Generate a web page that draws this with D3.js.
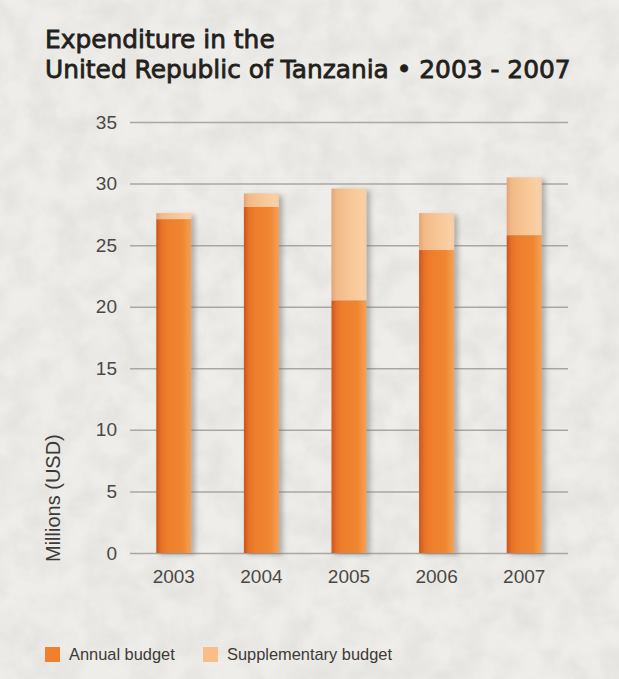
<!DOCTYPE html>
<html>
<head>
<meta charset="utf-8">
<script src="https://cdn.jsdelivr.net/npm/d3@7"></script>
<style>
  html, body { margin: 0; padding: 0; background: #eceae6; }
  svg { display: block; }
</style>
</head>
<body>
<svg id="chart"></svg>
<script>
// Data
const YEARS = ['2003', '2004', '2005', '2006', '2007'];
const ANNUAL = [27.1, 28.1, 20.5, 24.6, 25.8];
const SUPPLEMENTARY = [0.5, 1.1, 9.1, 3.0, 4.7];
const Y_TICKS = [0, 5, 10, 15, 20, 25, 30, 35];
const SERIES = ['Annual budget', 'Supplementary budget'];
const TITLE = ['Expenditure in the', 'United Republic of Tanzania \u2022 2003 - 2007'];

// Layout
const W = 619, H = 679;
const margin = {top: 122, right: 51, bottom: 126, left: 130};
const width = W - margin.left - margin.right;
const height = H - margin.top - margin.bottom;

const svg = d3.select('#chart').attr('width', W).attr('height', H);
const defs = svg.append('defs');

// paper texture
const paper = defs.append('filter').attr('id', 'paper')
  .attr('x', 0).attr('y', 0).attr('width', '100%').attr('height', '100%');
paper.append('feTurbulence').attr('type', 'fractalNoise')
  .attr('baseFrequency', 0.035).attr('numOctaves', 4).attr('seed', 7);
paper.append('feColorMatrix').attr('type', 'matrix')
  .attr('values', '0 0 0 0 0.45  0 0 0 0 0.44  0 0 0 0 0.42  0 0 0 -1.1 0.75');
svg.append('rect').attr('width', W).attr('height', H).attr('fill', '#efede9');
svg.append('rect').attr('width', W).attr('height', H).attr('filter', 'url(#paper)').attr('opacity', 0.3);

// bar gradients
const grad = (id, stops) => {
  const g = defs.append('linearGradient').attr('id', id)
    .attr('x1', 0).attr('x2', 1).attr('y1', 0).attr('y2', 0);
  stops.forEach(s => g.append('stop').attr('offset', s[0]).attr('stop-color', s[1]));
};
grad('gAnnual', [[0, '#c9561a'], [0.14, '#e6702a'], [0.3, '#ee7d2c'], [0.75, '#f08630'], [0.92, '#f39a4a'], [1, '#eea060']]);
grad('gSupp', [[0, '#e3a474'], [0.14, '#f2b988'], [0.5, '#f7c594'], [0.9, '#f9d0a6'], [1, '#f3cba6']]);

const shadow = defs.append('filter').attr('id', 'shadow')
  .attr('x', '-30%').attr('y', '-10%').attr('width', '180%').attr('height', '120%');
shadow.append('feDropShadow').attr('dx', 4).attr('dy', 2).attr('stdDeviation', 2.5)
  .attr('flood-color', '#6a6a6a').attr('flood-opacity', 0.45);

// Title
const title = svg.append('g')
  .attr('font-family', '"DejaVu Sans", sans-serif')
  .attr('fill', '#231f1c')
  .attr('stroke', '#231f1c')
  .attr('stroke-width', 0.8)
  .attr('font-size', 24);
const titleLines = title.selectAll('text').data(TITLE).enter().append('text')
  .attr('x', 45)
  .attr('y', (d, i) => 48 + i * 29.5)
  .text(d => d);
// size the font so the second line spans the reference width
const line2 = titleLines.filter((d, i) => i === 1).node();
title.attr('font-size', 24 * 526 / line2.getComputedTextLength());

const g = svg.append('g').attr('transform', `translate(${margin.left},${margin.top})`);

const x = d3.scaleBand().domain(YEARS).range([0, width]).paddingInner(0.6).paddingOuter(0.3);
const y = d3.scaleLinear().domain([0, 35]).range([height, 0]);

// grid + y labels
g.append('g')
  .call(d3.axisLeft(y).tickValues(Y_TICKS).tickSize(-width).tickPadding(13))
  .call(a => a.select('.domain').remove())
  .call(a => a.selectAll('line').attr('stroke', '#a9a7a4').attr('stroke-width', 1.5))
  .call(a => a.selectAll('text')
    .attr('fill', '#4a4846')
    .attr('font-family', '"Liberation Sans", Arial, sans-serif')
    .attr('font-size', 19));

// x labels
g.append('g').attr('transform', `translate(0,${height})`)
  .call(d3.axisBottom(x).tickSize(0).tickPadding(17))
  .call(a => a.select('.domain').remove())
  .call(a => a.selectAll('text')
    .attr('fill', '#4a4846')
    .attr('font-family', '"Liberation Sans", Arial, sans-serif')
    .attr('font-size', 19));

// bars
const rows = YEARS.map((yr, i) => ({year: yr, annual: ANNUAL[i], supp: SUPPLEMENTARY[i]}));
const bars = g.selectAll('.bar').data(rows).enter().append('g')
  .attr('class', 'bar')
  .attr('filter', 'url(#shadow)');
bars.append('rect')
  .attr('x', d => x(d.year))
  .attr('width', x.bandwidth())
  .attr('y', d => y(d.annual + d.supp))
  .attr('height', d => y(d.annual) - y(d.annual + d.supp))
  .attr('fill', 'url(#gSupp)');
bars.append('rect')
  .attr('x', d => x(d.year))
  .attr('width', x.bandwidth())
  .attr('y', d => y(d.annual))
  .attr('height', d => y(0) - y(d.annual))
  .attr('fill', 'url(#gAnnual)');

// y axis title
svg.append('text')
  .attr('transform', `translate(60, 562) rotate(-90)`)
  .attr('font-family', '"Liberation Sans", Arial, sans-serif')
  .attr('font-size', 20)
  .attr('fill', '#3c3a38')
  .text('Millions (USD)');

// legend
const legend = svg.append('g').attr('transform', 'translate(45,647)');
const COLORS = ['#f07f2e', '#f9bd88'];
const item = legend.selectAll('g').data(SERIES).enter().append('g')
  .attr('transform', (d, i) => `translate(${i * 158},0)`);
item.append('rect').attr('width', 15).attr('height', 15).attr('fill', (d, i) => COLORS[i]);
item.append('text')
  .attr('x', 24).attr('y', 13)
  .attr('font-family', '"Liberation Sans", Arial, sans-serif')
  .attr('font-size', 16.4)
  .attr('fill', '#3c3a38')
  .text(d => d);
</script>
</body>
</html>
